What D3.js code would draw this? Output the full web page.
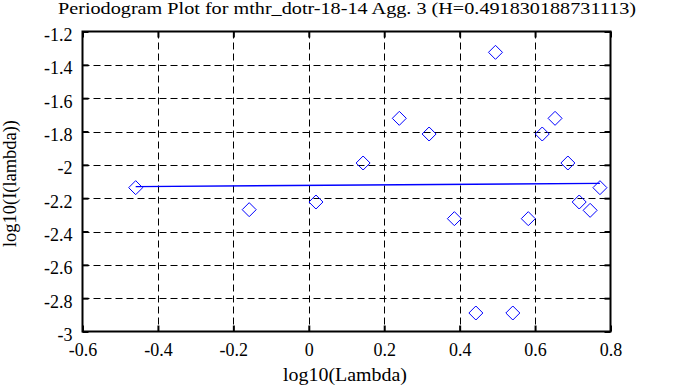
<!DOCTYPE html>
<html>
<head>
<meta charset="utf-8">
<script src="https://cdn.jsdelivr.net/npm/d3@7"></script>
<style>
  html, body { margin: 0; padding: 0; background: #fff; }
  svg { display: block; }
  svg text { font-family: "Liberation Serif", "Times New Roman", serif !important; fill: #000; }
</style>
</head>
<body>
<svg id="chart" width="678" height="387"></svg>
<script>
// ---- data ----
const logLambda = [-0.459, -0.158, 0.019, 0.144, 0.240, 0.319, 0.386, 0.443, 0.495,
                   0.541, 0.582, 0.619, 0.653, 0.687, 0.717, 0.746, 0.772];
const logI = [-2.137, -2.269, -2.223, -1.989, -1.721, -1.815, -2.323, -2.889, -1.325,
              -2.889, -2.323, -1.815, -1.721, -1.989, -2.223, -2.273, -2.137];
const fitX = [-0.459, 0.772];
const fitY = [-2.131, -2.111];
const xTicks = [-0.6, -0.4, -0.2, 0, 0.2, 0.4, 0.6, 0.8];
const yTicks = [-1.2, -1.4, -1.6, -1.8, -2, -2.2, -2.4, -2.6, -2.8, -3];
const titleText = "Periodogram Plot for mthr_dotr-18-14 Agg. 3 (H=0.491830188731113)";
const xLabel = "log10(Lambda)";
const yLabel = "log10(I(lambda))";

// ---- layout ----
const svg = d3.select("#chart");
const L = 82.5, R = 610.5, T = 31.5, B = 331.5;
const x = d3.scaleLinear().domain([-0.6, 0.8]).range([L, R]);
const y = d3.scaleLinear().domain([-3, -1.2]).range([B, T]);
const fmt = d => String(+d.toFixed(1));
const FONT = '"Liberation Serif", "Times New Roman", serif';

// grid
const grid = svg.append("g").attr("stroke", "#000").attr("stroke-width", 1)
  .attr("stroke-dasharray", "7,4").attr("fill", "none");
xTicks.filter(t => t > -0.6 && t < 0.8).forEach(t => {
  const px = Math.round(x(t)) + 0.5;
  grid.append("line").attr("x1", px).attr("x2", px).attr("y1", T).attr("y2", B);
});
yTicks.filter(t => t < -1.2 && t > -3).forEach(t => {
  const py = Math.round(y(t)) + 0.5;
  grid.append("line").attr("x1", L).attr("x2", R).attr("y1", py).attr("y2", py);
});

// axes with inward ticks
const tl = 6;
const axB = svg.append("g").attr("transform", `translate(0,${B})`)
  .call(d3.axisBottom(x).tickValues(xTicks).tickSizeInner(-tl).tickSizeOuter(0).tickFormat(fmt));
const axT = svg.append("g").attr("transform", `translate(0,${T})`)
  .call(d3.axisTop(x).tickValues(xTicks).tickSizeInner(-tl).tickSizeOuter(0).tickFormat(""));
const axL = svg.append("g").attr("transform", `translate(${L},0)`)
  .call(d3.axisLeft(y).tickValues(yTicks).tickSizeInner(-tl).tickSizeOuter(0).tickFormat(fmt));
const axR = svg.append("g").attr("transform", `translate(${R},0)`)
  .call(d3.axisRight(y).tickValues(yTicks).tickSizeInner(-tl).tickSizeOuter(0).tickFormat(""));
[axB, axT, axL, axR].forEach(a => {
  a.attr("font-family", FONT).attr("font-size", 18);
  a.select(".domain").remove();
  a.selectAll(".tick line").attr("stroke", "#000").attr("stroke-width", 2);
});
axB.selectAll(".tick text").style("font-family", FONT).style("font-size", "18px")
  .attr("y", 0).attr("dy", 0).attr("transform", "translate(0,24)").attr("fill", "#000");
axL.selectAll(".tick text").style("font-family", FONT).style("font-size", "18px")
  .attr("x", -10).attr("dy", 0).attr("y", 9).attr("fill", "#000");

// border
svg.append("rect").attr("x", L).attr("y", T).attr("width", R - L).attr("height", B - T)
  .attr("fill", "none").attr("stroke", "#000").attr("stroke-width", 2);

// fit line
svg.append("line")
  .attr("x1", x(fitX[0])).attr("y1", y(fitY[0]))
  .attr("x2", x(fitX[1])).attr("y2", y(fitY[1]))
  .attr("stroke", "#0000ff").attr("stroke-width", 1.4);

// diamonds
const pts = logLambda.map((v, i) => [v, logI[i]]);
const s = 7;
svg.append("g").selectAll("path").data(pts).join("path")
  .attr("d", d => {
    const cx = x(d[0]), cy = y(d[1]);
    return `M${cx},${cy - s}L${cx + s},${cy}L${cx},${cy + s}L${cx - s},${cy}Z`;
  })
  .attr("fill", "none").attr("stroke", "#0000ff").attr("stroke-width", 1);

// labels
svg.append("text").attr("x", 347).attr("y", 14).attr("text-anchor", "middle")
  .style("font-family", FONT).style("font-size", "17px")
  .attr("textLength", 578).attr("lengthAdjust", "spacingAndGlyphs")
  .text(titleText);
svg.append("text").attr("x", 345).attr("y", 381).attr("text-anchor", "middle")
  .style("font-family", FONT).style("font-size", "18px")
  .attr("textLength", 124).attr("lengthAdjust", "spacingAndGlyphs")
  .text(xLabel);
svg.append("text").attr("transform", "translate(16,183.5) rotate(-90)").attr("text-anchor", "middle")
  .style("font-family", FONT).style("font-size", "18px")
  .attr("textLength", 127).attr("lengthAdjust", "spacingAndGlyphs")
  .text(yLabel);
</script>
</body>
</html>
